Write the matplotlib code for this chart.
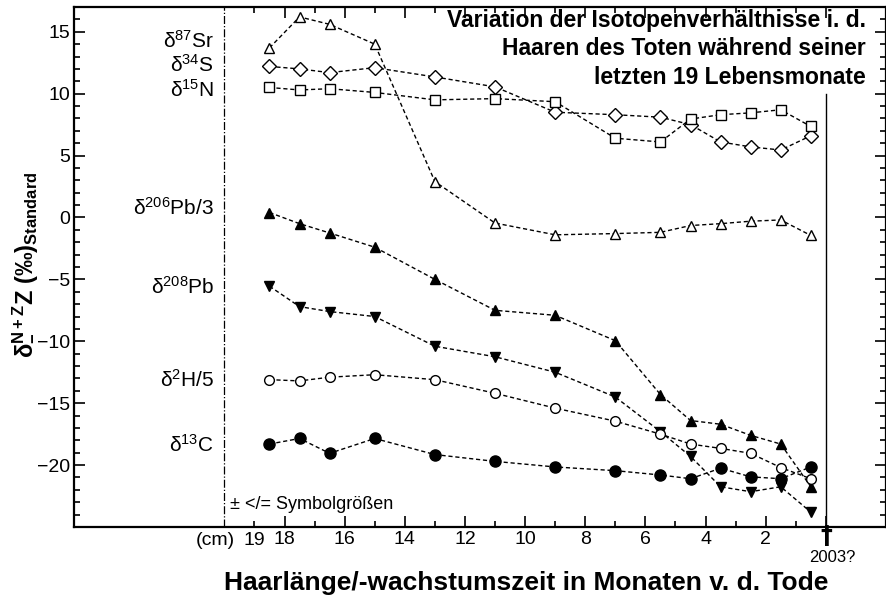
import matplotlib

matplotlib.use("Agg")
import matplotlib.pyplot as plt
from matplotlib.ticker import MultipleLocator, FixedLocator

plt.rcParams["font.family"] = ["Liberation Sans", "DejaVu Sans"]
plt.rcParams["mathtext.default"] = "regular"

# months before death (hair segment position)
months = [18.5, 17.5, 16.5, 15, 13, 11, 9, 7, 5.5, 4.5, 3.5, 2.5, 1.5, 0.5]

d87_sr = [13.7, 16.2, 15.6, 14.0, 2.9, -0.45, -1.4, -1.3, -1.2, -0.65, -0.5, -0.3, -0.2, -1.45]
d34_s = [12.2, 12.0, 11.7, 12.1, 11.35, 10.55, 8.5, 8.3, 8.1, 7.5, 6.1, 5.7, 5.45, 6.6]
d15_n = [10.5, 10.3, 10.4, 10.1, 9.5, 9.6, 9.35, 6.4, 6.1, 7.95, 8.3, 8.45, 8.7, 7.35]
d206_pb_3 = [0.4, -0.5, -1.25, -2.4, -5.0, -7.5, -7.9, -9.95, -14.3, -16.4, -16.7, -17.6, -18.3, -21.75]
d208_pb = [-5.55, -7.2, -7.6, -8.0, -10.4, -11.25, -12.5, -14.5, -17.3, -19.3, -21.75, -22.15, -21.75, -23.8]
d2_h_5 = [-13.1, -13.2, -12.9, -12.7, -13.1, -14.2, -15.4, -16.45, -17.5, -18.3, -18.65, -19.05, -20.2, -21.1]
d13_c = [-18.3, -17.85, -19.05, -17.85, -19.15, -19.7, -20.15, -20.45, -20.8, -21.1, -20.25, -20.95, -21.1, -20.15]

# (values, marker, filled, size, label, label y)
series = [
    (d87_sr, "^", False, 7, r"δ$^{87}$Sr", 14.3),
    (d34_s, "D", False, 7, r"δ$^{34}$S", 12.3),
    (d15_n, "s", False, 7, r"δ$^{15}$N", 10.3),
    (d206_pb_3, "^", True, 7, r"δ$^{206}$Pb/3", 0.8),
    (d208_pb, "v", True, 7, r"δ$^{208}$Pb", -5.6),
    (d2_h_5, "o", False, 7, r"δ$^{2}$H/5", -13.1),
    (d13_c, "o", True, 8, r"δ$^{13}$C", -18.4),
]

x_ticks_major = [18, 16, 14, 12, 10, 8, 6, 4, 2]
x_ticks_minor = [19, 17, 15, 13, 11, 9, 7, 5, 3, 1]

fig = plt.figure(figsize=(8.87, 6.0), dpi=100)
ax = fig.add_axes([74 / 887, 73 / 600, 812 / 887, 520 / 600])

for vals, mk, filled, ms, label, ly in series:
    ax.plot(months, vals, color="black", lw=1.0, ls=(0, (3, 2)),
            marker=mk, ms=ms, mec="black", mew=1.0,
            mfc="black" if filled else "white", zorder=3)
    ax.text(20.35, ly, label, ha="right", va="center", fontsize=15)

ax.set_xlim(25, -2)
ax.set_ylim(-25, 17)

# cm scale start and the date of death
ax.axvline(20, color="black", lw=0.9, ls="-.")
ax.plot([0, 0], [-25, 10], color="black", lw=1.0)

ax.xaxis.set_major_locator(FixedLocator(x_ticks_major + [0]))
ax.xaxis.set_minor_locator(FixedLocator(x_ticks_minor))
ax.set_xticklabels([str(t) for t in x_ticks_major] + [""])
ax.yaxis.set_major_locator(FixedLocator([-20, -15, -10, -5, 0, 5, 10, 15]))
ax.yaxis.set_minor_locator(MultipleLocator(1))

ax.tick_params(which="both", direction="in", top=True, right=True, width=1.2,
               labelsize=14, pad=3)
ax.tick_params(which="major", length=8)
ax.tick_params(which="minor", length=4)
for sp in ax.spines.values():
    sp.set_linewidth(1.6)

xt = ax.get_xaxis_transform()
ax.text(19, -0.01, "19", transform=xt, ha="center", va="top", fontsize=14)
ax.text(20.3, -0.01, "(cm)", transform=xt, ha="center", va="top", fontsize=14)
ax.text(0, 0.005, "†", transform=xt, ha="center", va="top", fontsize=17,
        fontweight="bold", family="DejaVu Sans")
ax.text(-0.2, -0.045, "2003?", transform=xt, ha="center", va="top", fontsize=12)
ax.text(19.8, -23.2, "± </= Symbolgrößen", ha="left", va="center", fontsize=13)

title = "Variation der Isotopenverhältnisse i. d.\nHaaren des Toten während seiner\nletzten 19 Lebensmonate"
fig.text(866 / 887, 1 - 9 / 600, title, ha="right", va="top", fontsize=16.5,
         fontweight="bold", linespacing=1.3)

fig.text(526 / 887, 1 - 583 / 600, "Haarlänge/-wachstumszeit in Monaten v. d. Tode",
         ha="center", va="center", fontsize=19, fontweight="bold")
fig.text(25 / 887, 1 - 265 / 600, r"δ$^{N+Z}_{-}$Z (‰)$_{Standard}$",
         rotation=90, ha="center", va="center", fontsize=17, fontweight="bold")

fig.savefig("out.png", dpi=100)
